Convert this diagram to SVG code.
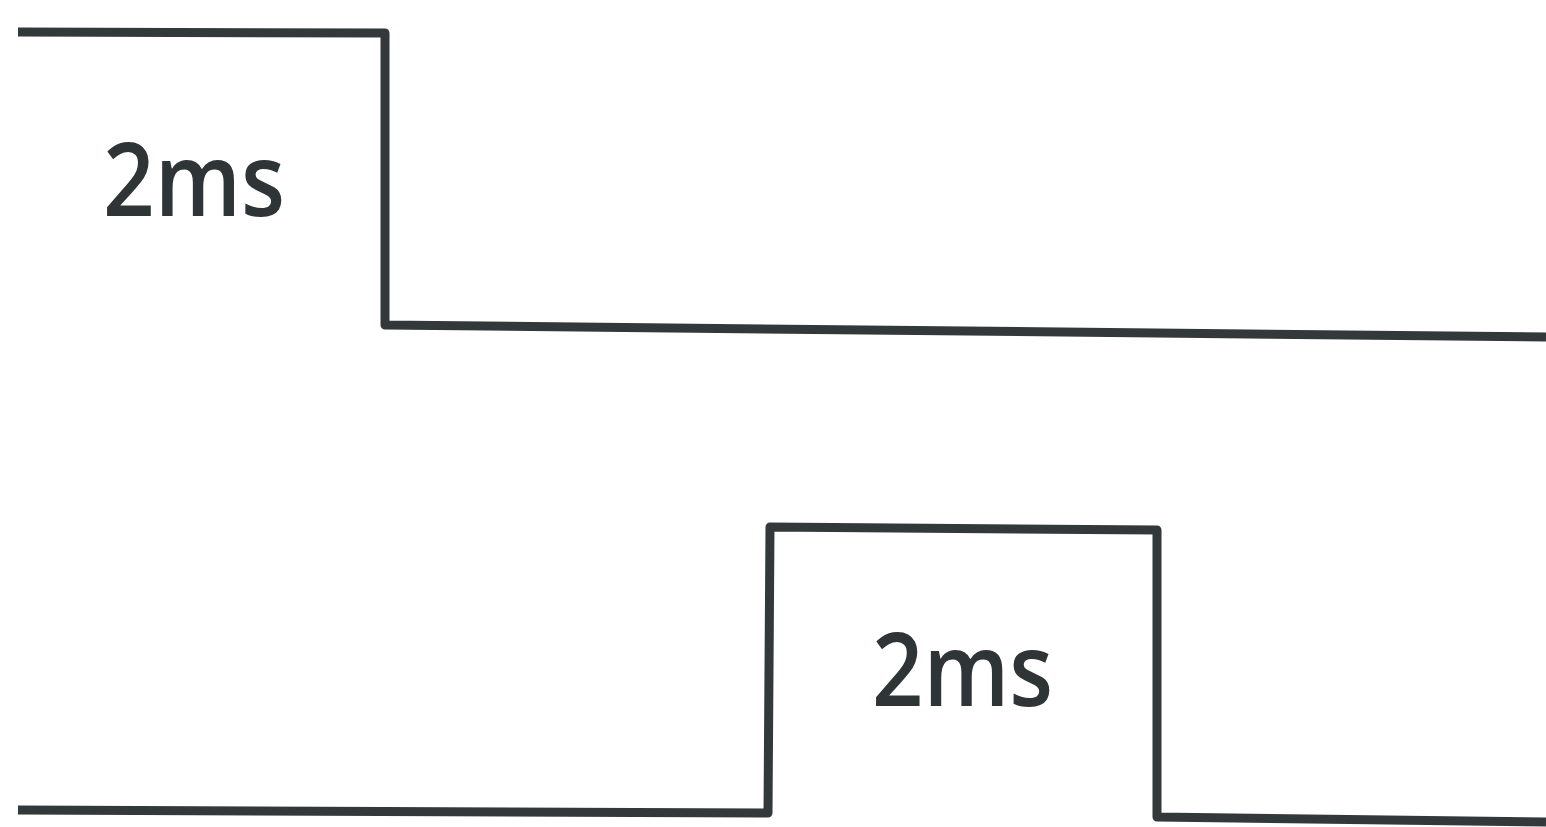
<svg xmlns="http://www.w3.org/2000/svg" width="1546" height="827" viewBox="0 0 1546 827">
<style>
.wave{fill:none;stroke:#33383b;stroke-width:9;stroke-linejoin:round;stroke-linecap:butt}
.lbl{font-family:"Open Sans","Liberation Sans",sans-serif;font-size:102px;font-weight:600;fill:#2f3437}
</style>
<rect width="1546" height="827" fill="#ffffff"/>
<g id="connectors">
<polyline id="wave-top" class="wave" points="18,32 385,33 385,325 1546,337"/>
<polyline id="wave-bottom" class="wave" points="18,810 768,813 770,527 1157,530 1157,817 1546,822"/>
</g>
<g id="label-top"><text class="lbl" x="103" y="216" textLength="182" lengthAdjust="spacingAndGlyphs">2ms</text></g>
<g id="label-bottom"><text class="lbl" x="872" y="706" textLength="181" lengthAdjust="spacingAndGlyphs">2ms</text></g>
</svg>
